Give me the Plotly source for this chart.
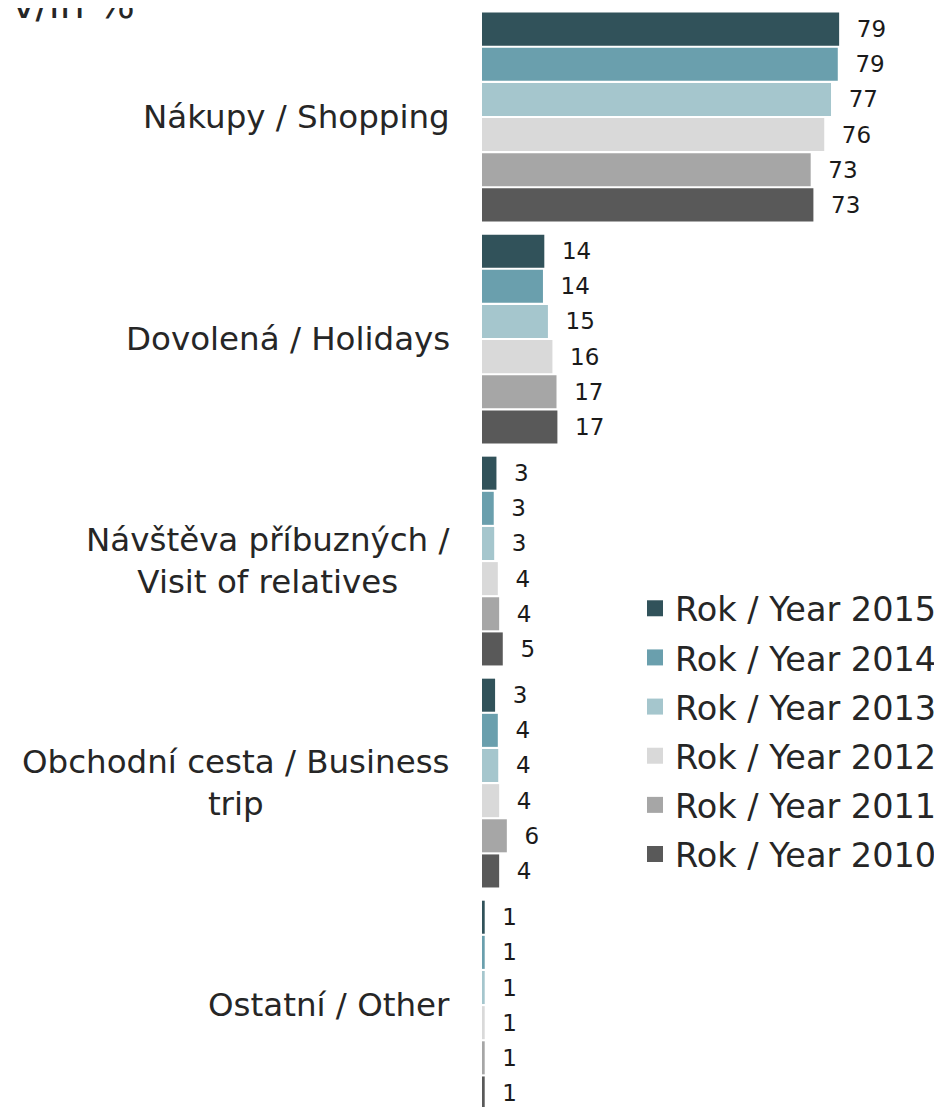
import plotly.graph_objects as go

categories = [
    "Nákupy / Shopping",
    "Dovolená / Holidays",
    "Návštěva příbuzných /<br>Visit of relatives",
    "Obchodní cesta / Business<br>trip",
    "Ostatní / Other",
]
series_names = [
    "Rok / Year 2015",
    "Rok / Year 2014",
    "Rok / Year 2013",
    "Rok / Year 2012",
    "Rok / Year 2011",
    "Rok / Year 2010",
]
values_2015 = [79.1, 13.8, 3.2, 2.9, 0.6]
values_2014 = [78.8, 13.5, 2.6, 3.5, 0.6]
values_2013 = [77.3, 14.6, 2.7, 3.6, 0.6]
values_2012 = [75.8, 15.6, 3.5, 3.8, 0.6]
values_2011 = [72.8, 16.5, 3.8, 5.5, 0.6]
values_2010 = [73.4, 16.7, 4.6, 3.8, 0.6]
series_values = [values_2015, values_2014, values_2013, values_2012, values_2011, values_2010]
colors = ["#31525a", "#6a9fad", "#a5c6cd", "#d9d9d9", "#a6a6a6", "#595959"]
title_text = "v/in %"

FONT = "DejaVu Sans, Verdana, sans-serif"
TEXT_COLOR = "#262626"

# The page body has an 8px margin; figure fills the rest of the 942x1107 window.
W, H = 934, 1099

fig = go.Figure()
for name, vals, col in zip(series_names, series_values, colors):
    fig.add_trace(go.Bar(
        y=categories,
        x=vals,
        name=name,
        orientation="h",
        marker=dict(color=col, line=dict(width=0)),
        texttemplate="\u00a0\u00a0%{x:.0f}",
        textposition="outside",
        textfont=dict(family=FONT, size=23, color="#1a1a1a"),
        constraintext="none",
        cliponaxis=False,
        showlegend=False,
        hoverinfo="skip",
    ))

# legend-only entries with larger square swatches
for name, col in zip(series_names, colors):
    fig.add_trace(go.Scatter(
        x=[None], y=[None],
        mode="markers",
        name=name,
        legendgroup=name,
        marker=dict(symbol="square", size=16, color=col),
        hoverinfo="skip",
    ))

for cat in categories:
    fig.add_annotation(
        x=0, xref="paper", xanchor="right", xshift=-30,
        y=cat, yref="y",
        text=cat, showarrow=False, align="center",
        font=dict(family=FONT, size=32.5, color=TEXT_COLOR),
    )

# chart title (partly cut at the top edge, as in the reference)
fig.add_annotation(
    x=0, xref="paper", xanchor="left", xshift=-472,
    y=1, yref="paper", yanchor="middle", yshift=4,
    text=title_text, showarrow=False,
    font=dict(family=FONT, size=39.5, color=TEXT_COLOR),
)

fig.update_layout(
    width=W,
    height=H,
    margin=dict(l=474, r=0, t=0, b=0, autoexpand=False),
    paper_bgcolor="white",
    plot_bgcolor="white",
    barmode="group",
    bargap=0.05,
    bargroupgap=0.06,
    font=dict(family=FONT, color=TEXT_COLOR),
    xaxis=dict(visible=False, range=[0, 460 / 4.515], fixedrange=True),
    yaxis=dict(
        type="category",
        range=[4.459, -0.491],
        showticklabels=False,
        showgrid=False,
        zeroline=False,
        showline=False,
        ticks="",
        fixedrange=True,
    ),
    legend=dict(
        xref="container", yref="container",
        x=627 / W, xanchor="left",
        y=1 - 572 / H, yanchor="top",
        font=dict(family=FONT, size=33.5, color=TEXT_COLOR),
        tracegroupgap=2.6,
        traceorder="grouped",
        bgcolor="rgba(0,0,0,0)",
        borderwidth=0,
    ),
    showlegend=True,
)

fig.write_html("out.html")
